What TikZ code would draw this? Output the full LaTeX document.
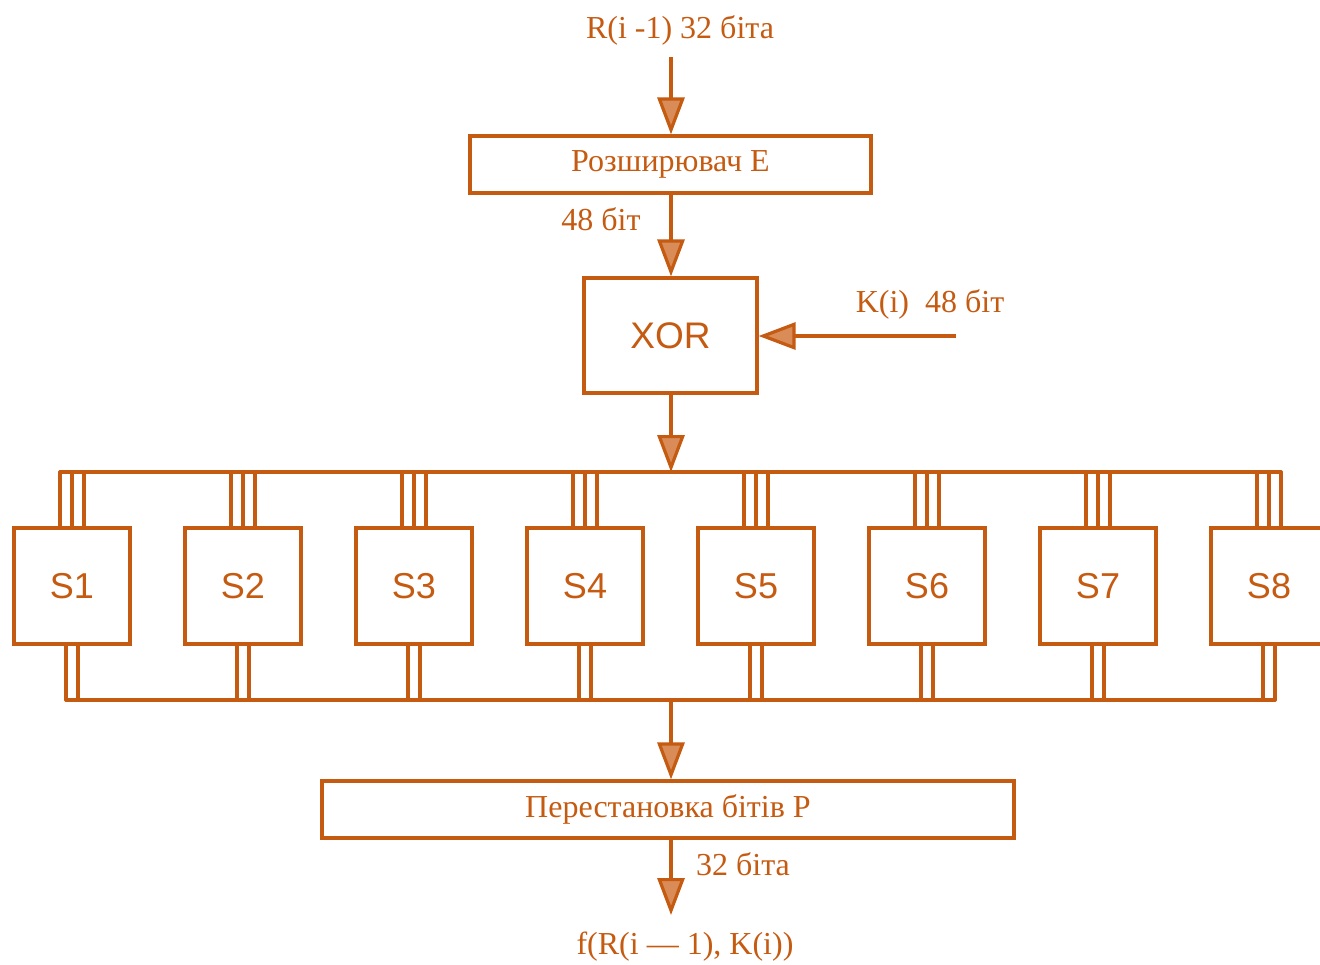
\documentclass[tikz,border=0pt]{standalone}
\usepackage{fontspec}
\setmainfont{Liberation Serif}
\newfontfamily\boxfont{Liberation Sans}
\usetikzlibrary{arrows.meta}
\definecolor{org}{HTML}{C55A11}
\definecolor{orgfill}{HTML}{D98C58}
\begin{document}
\begin{tikzpicture}[x=1pt,y=-1pt,
  line width=3.2pt, color=org,
  blk/.style={draw=org, line width=3.2pt, inner sep=0pt, text=org, font=\fontsize{32}{36}\selectfont},
  sbox/.style={draw=org, line width=3.2pt, inner sep=0pt, minimum width=116pt, minimum height=116pt, text=org, font=\boxfont\fontsize{36}{40}\selectfont},
  lbl/.style={text=org, inner sep=0pt, font=\fontsize{32}{36}\selectfont},
  arr/.style={draw=org, -{Triangle[length=37pt,width=27pt,fill=orgfill]}},
  wire/.style={draw=org, line cap=round}]
\useasboundingbox (0,0) rectangle (1320,964);
\clip (0,0) rectangle (1320,964);

% main blocks
\node[blk, minimum width=401pt, minimum height=57pt] (e) at (670.5,164.5) {Розширювач Е};
\node[blk, font=\boxfont\fontsize{37}{40}\selectfont, minimum width=173pt, minimum height=115pt] (xor) at (670.5,335.5) {XOR};
\node[blk, minimum width=692pt, minimum height=57pt] (p) at (668,809.5) {Перестановка бітів Р};

% labels
\node[lbl] (tin) at (680,30) {R(i -1) 32 біта};
\node[lbl] (l48) at (601,219) {48 біт};
\node[lbl] (lk) at (930,304) {K(i)\ \ 48 біт};
\node[lbl] (l32) at (743,864) {32 біта};
\node[lbl] (tout) at (685,947) {f(R(i — 1), K(i))};

% coordinates
\coordinate (a0) at (671,57);
\coordinate (k0) at (956,336);
\coordinate (busT) at (671,472);
\coordinate (busB) at (671,700);
\coordinate (o1) at (671,915);
\coordinate (tl) at (60,472);
\coordinate (tr) at (1281,472);
\coordinate (bl) at (66,700);
\coordinate (br) at (1275,700);

% arrows
\draw[arr] (a0) -- (e.north -| a0);
\draw[arr] (e.south -| a0) -- (xor.north -| a0);
\draw[arr] (k0) -- (xor.east |- k0);
\draw[arr] (xor.south -| busT) -- (busT);
\draw[arr] (busB) -- (p.north -| busB);
\draw[arr] (p.south -| o1) -- (o1);

% buses
\draw[wire] (tl) -- (tr);
\draw[wire] (bl) -- (br);

% S-boxes
\foreach \i in {1,...,8}{
  \node[sbox] (s\i) at ({72+171*(\i-1)},586) {S\i};
  \foreach \d in {-12,0,12}{
    \draw[wire] ([xshift=\d pt]s\i.north) -- ([xshift=\d pt]s\i.north |- tl);
  }
  \foreach \d in {-6,6}{
    \draw[wire] ([xshift=\d pt]s\i.south) -- ([xshift=\d pt]s\i.south |- bl);
  }
}
\end{tikzpicture}
\end{document}
